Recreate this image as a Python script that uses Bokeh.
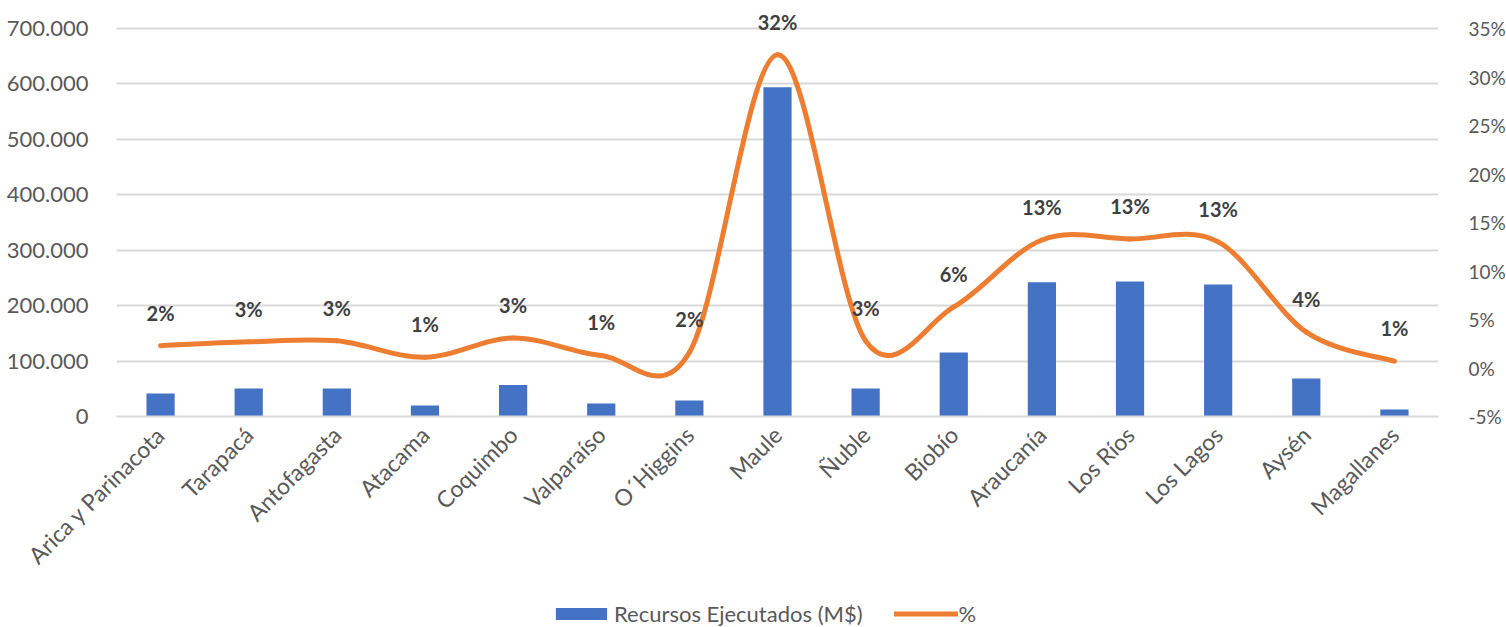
import math
from bokeh.plotting import figure
from bokeh.layouts import column
from bokeh.models import (Range1d, LinearAxis, FixedTicker, Legend, LegendItem,
                          ColumnDataSource, LabelSet)
from bokeh.core.properties import value
from bokeh.embed import file_html
from bokeh.resources import INLINE

regions = ["Arica y Parinacota", "Tarapacá", "Antofagasta", "Atacama", "Coquimbo",
           "Valparaíso", "O´Higgins", "Maule", "Ñuble", "Biobío", "Araucanía",
           "Los Ríos", "Los Lagos", "Aysén", "Magallanes"]
recursos = [41500, 50500, 50500, 20000, 57000, 23500, 29000, 594000, 50500,
            115500, 242000, 243700, 238000, 68600, 12600]
pct = [2.3, 2.7, 2.8, 1.1, 3.1, 1.3, 1.6, 32.3, 2.8, 6.3, 13.2, 13.3, 13.0, 3.7, 0.7]
pct_labels = ["2%", "3%", "3%", "1%", "3%", "1%", "2%", "32%", "3%", "6%",
              "13%", "13%", "13%", "4%", "1%"]
left_ticks = [0, 100000, 200000, 300000, 400000, 500000, 600000, 700000]
left_tick_labels = ["0", "100.000", "200.000", "300.000", "400.000", "500.000",
                    "600.000", "700.000"]
right_ticks = [-5, 0, 5, 10, 15, 20, 25, 30, 35]
right_tick_labels = ["-5%", "0%", "5%", "10%", "15%", "20%", "25%", "30%", "35%"]

FONT = "Lato"
GREY = "#595959"
BLUE = "#4472C4"
ORANGE = "#ED7D31"

n = len(regions)
xs = list(range(n))

# frame extends 23px above the top gridline so that the top data label is not clipped
GRID_H = 388.0
EXTRA = 23.0
left_top = left_ticks[-1] + (left_ticks[-1] - left_ticks[0]) * EXTRA / GRID_H
right_top = right_ticks[-1] + (right_ticks[-1] - right_ticks[0]) * EXTRA / GRID_H

p = figure(frame_width=1322, frame_height=int(GRID_H + EXTRA), output_backend="svg",
           toolbar_location=None, x_range=Range1d(-0.5, n - 0.5),
           y_range=Range1d(left_ticks[0], left_top), min_border_left=116,
           min_border_top=5, min_border_right=68, min_border_bottom=181,
           background_fill_color="#ffffff", border_fill_color="#ffffff",
           outline_line_color=None)
p.extra_y_ranges = {"pct": Range1d(right_ticks[0], right_top)}

# bars
bars = p.vbar(x=xs, top=recursos, bottom=0, width=0.32, fill_color=BLUE,
              line_color=None)

# smoothed line (Catmull-Rom -> cubic Bezier segments)
x0, y0, x1, y1, cx0, cy0, cx1, cy1 = [], [], [], [], [], [], [], []
for i in range(n - 1):
    a = i - 1 if i > 0 else i
    d = i + 2 if i + 2 < n else i + 1
    x0.append(xs[i]); y0.append(pct[i])
    x1.append(xs[i + 1]); y1.append(pct[i + 1])
    cx0.append(xs[i] + (xs[i + 1] - xs[a]) / 6.0)
    cy0.append(pct[i] + (pct[i + 1] - pct[a]) / 6.0)
    cx1.append(xs[i + 1] - (xs[d] - xs[i]) / 6.0)
    cy1.append(pct[i + 1] - (pct[d] - pct[i]) / 6.0)
p.bezier(x0=x0, y0=y0, x1=x1, y1=y1, cx0=cx0, cy0=cy0, cx1=cx1, cy1=cy1,
         line_color=ORANGE, line_width=5, line_cap="round", y_range_name="pct")

# data labels
src = ColumnDataSource(dict(x=xs, y=pct, t=pct_labels))
labels = LabelSet(x="x", y="y", text="t", source=src, y_range_name="pct",
                  text_align="center", text_baseline="middle", y_offset=33,
                  text_font=value(FONT), text_font_style="bold",
                  text_font_size="20px", text_color="#404040")
p.add_layout(labels)

# axes
p.yaxis.ticker = FixedTicker(ticks=left_ticks)
p.yaxis.major_label_overrides = dict(zip(left_ticks, left_tick_labels))
p.yaxis.axis_line_color = None
p.yaxis.major_tick_line_color = None
p.yaxis.minor_tick_line_color = None
p.yaxis.major_label_standoff = 22
p.yaxis.major_label_text_font = FONT
p.yaxis.major_label_text_font_size = "22px"
p.yaxis.major_label_text_color = GREY

ry = LinearAxis(y_range_name="pct", ticker=FixedTicker(ticks=right_ticks))
ry.major_label_overrides = dict(zip(right_ticks, right_tick_labels))
ry.axis_line_color = None
ry.major_tick_line_color = None
ry.minor_tick_line_color = None
ry.major_label_standoff = 24
ry.major_label_text_font = FONT
ry.major_label_text_font_size = "19px"
ry.major_label_text_color = GREY
p.add_layout(ry, "right")

p.xaxis.ticker = FixedTicker(ticks=xs)
p.xaxis.major_label_overrides = dict(zip(xs, regions))
p.xaxis.major_label_orientation = math.pi / 4
p.xaxis.axis_line_color = "#d9d9d9"
p.xaxis.axis_line_width = 2
p.xaxis.major_tick_line_color = None
p.xaxis.minor_tick_line_color = None
p.xaxis.major_label_standoff = 8
p.xaxis.major_label_text_font = FONT
p.xaxis.major_label_text_font_size = "23px"
p.xaxis.major_label_text_color = GREY

p.xgrid.grid_line_color = None
p.ygrid.ticker = FixedTicker(ticks=left_ticks)
p.ygrid.grid_line_color = "#d9d9d9"
p.ygrid.grid_line_width = 2

# legend in its own strip below the chart (sample glyphs sit outside the visible range)
lf = figure(width=1506, height=30, output_backend="svg", toolbar_location=None,
            x_range=Range1d(0, 1), y_range=Range1d(0, 1), min_border=0,
            x_axis_location=None, y_axis_location=None,
            background_fill_color="#ffffff", border_fill_color="#ffffff",
            outline_line_color=None)
lf.xgrid.grid_line_color = None
lf.ygrid.grid_line_color = None
lb = lf.vbar(x=[10], top=[20], bottom=[10], width=0.3, fill_color=BLUE, line_color=None)
ll = lf.line(x=[10, 11], y=[10, 11], line_color=ORANGE, line_width=5, line_cap="round")
legend = Legend(items=[LegendItem(label="Recursos Ejecutados (M$)", renderers=[lb]),
                       LegendItem(label="%", renderers=[ll])],
                orientation="horizontal", location=(433, 0),
                glyph_width=64, glyph_height=15, label_standoff=1, spacing=31,
                padding=0, margin=0, border_line_color=None,
                background_fill_alpha=0, label_text_font=FONT,
                label_text_font_size="22px", label_text_color=GREY,
                label_height=20)
lf.add_layout(legend, "center")

open("out.html", "w").write(file_html(column(p, lf, spacing=0), INLINE))
